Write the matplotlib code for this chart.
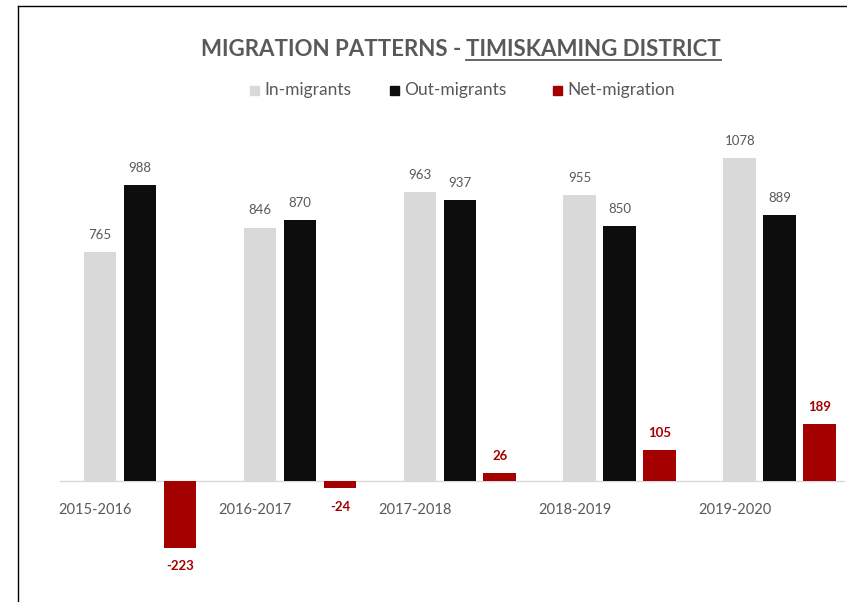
import numpy as np
import matplotlib
matplotlib.use("Agg")
import matplotlib.pyplot as plt
from matplotlib.lines import Line2D
from matplotlib.patches import Rectangle

plt.rcParams['font.family'] = ['Lato', 'DejaVu Sans']

periods = ['2015-2016', '2016-2017', '2017-2018', '2018-2019', '2019-2020']
in_migrants = [765, 846, 963, 955, 1078]
out_migrants = [988, 870, 937, 850, 889]
net_migration = [-223, -24, 26, 105, 189]

c_in = '#d9d9d9'
c_out = '#0d0d0d'
c_net = '#a50000'
c_txt = '#595959'

W, H = 847, 602
fig = plt.figure(figsize=(W / 100, H / 100), dpi=100)

# axes placed in pixel terms: x 40..847, y 140..580 (from top)
ax = fig.add_axes([40 / W, 1 - 580 / H, (847 - 40) / W, (580 - 140) / H])
ax.set_xlim(-0.625, 4.419)
ax.set_ylim(-330, 1138)
ax.axis('off')

x = np.arange(len(periods))
bw = 0.206
off = 0.25
ax.bar(x - off, in_migrants, bw, color=c_in, zorder=2)
ax.bar(x, out_migrants, bw, color=c_out, zorder=2)
ax.bar(x + off, net_migration, bw, color=c_net, zorder=2)

ax.plot([-0.5, 4.4], [0, 0], color='#d9d9d9', lw=1, zorder=1)

for i in range(len(periods)):
    ax.annotate(str(in_migrants[i]), (x[i] - off, in_migrants[i]), xytext=(0, 8),
                textcoords='offset points', ha='center', va='bottom',
                fontsize=9.5, color=c_txt)
    ax.annotate(str(out_migrants[i]), (x[i], out_migrants[i]), xytext=(0, 8),
                textcoords='offset points', ha='center', va='bottom',
                fontsize=9.5, color=c_txt)
    v = net_migration[i]
    if v >= 0:
        ax.annotate(str(v), (x[i] + off, v), xytext=(0, 8),
                    textcoords='offset points', ha='center', va='bottom',
                    fontsize=9.5, color=c_net, fontweight='bold')
    else:
        ax.annotate(str(v), (x[i] + off, v), xytext=(0, -9),
                    textcoords='offset points', ha='center', va='top',
                    fontsize=9.5, color=c_net, fontweight='bold')
    ax.annotate(periods[i], (x[i] - 0.28, 0), xytext=(0, -16),
                textcoords='offset points', ha='center', va='top',
                fontsize=10.5, color=c_txt)

# title with underlined second part
t1 = fig.text(0, 1 - 50 / H, 'MIGRATION PATTERNS - ', fontsize=16, fontweight='bold',
              color=c_txt, ha='left', va='center')
t2 = fig.text(0, 1 - 50 / H, 'TIMISKAMING DISTRICT', fontsize=16, fontweight='bold',
              color=c_txt, ha='left', va='center')
fig.canvas.draw()
r = fig.canvas.get_renderer()
w1 = t1.get_window_extent(r).width
w2 = t2.get_window_extent(r).width
start = 461 - (w1 + w2) / 2
t1.set_x(start / W)
t2.set_x((start + w1) / W)
e2 = t2.get_window_extent(r)
uy = (e2.y0 + 1) / H
fig.add_artist(Line2D([(start + w1) / W, (start + w1 + w2) / W], [uy, uy],
                      color=c_txt, lw=1.3))

# legend
ly = 1 - 90 / H
items = [('In-migrants', c_in, 250), ('Out-migrants', c_out, 390),
         ('Net-migration', c_net, 553)]
for label, col, lx in items:
    fig.add_artist(Rectangle((lx / W, ly - 5 / H), 9 / W, 9 / H, color=col,
                             transform=fig.transFigure))
    fig.text((lx + 14) / W, ly, label, fontsize=12.5, color=c_txt,
             ha='left', va='center')

# border lines at top and left
fig.add_artist(Line2D([18 / W, 1], [1 - 6 / H, 1 - 6 / H], color='black', lw=1))
fig.add_artist(Line2D([18 / W, 18 / W], [0, 1 - 6 / H], color='black', lw=1))

fig.savefig('out.png', dpi=100)
